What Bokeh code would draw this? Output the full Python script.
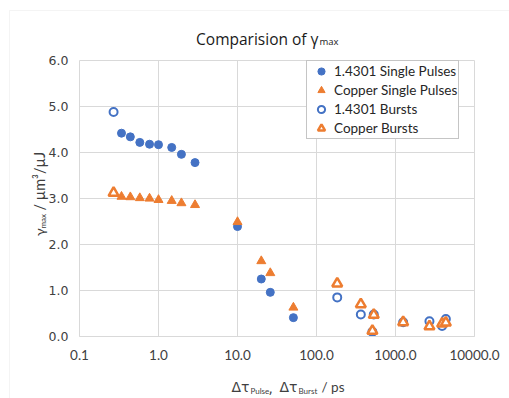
import math
from bokeh.plotting import figure
from bokeh.models import Label, Legend, LegendItem, FixedTicker, CustomJSTickFormatter, BoxAnnotation
from bokeh.embed import file_html
from bokeh.resources import INLINE

# ---- data ----
single_x = [0.34, 0.44, 0.58, 0.77, 1.0, 1.47, 1.95, 2.9, 10, 20, 26, 51]
steel_single_y = [4.42, 4.34, 4.22, 4.18, 4.17, 4.11, 3.96, 3.78, 2.39, 1.25, 0.96, 0.41]
copper_single_y = [3.04, 3.03, 3.01, 3.0, 2.97, 2.95, 2.90, 2.86, 2.49, 1.64, 1.38, 0.63]

burst_x = [0.27, 183, 364, 531, 510, 1250, 2690, 3890, 4340]
steel_burst_y = [4.88, 0.85, 0.48, 0.48, 0.10, 0.31, 0.33, 0.23, 0.38]
copper_burst_y = [3.12, 1.15, 0.70, 0.47, 0.12, 0.31, 0.22, 0.28, 0.30]

x_ticks = [0.1, 1, 10, 100, 1000, 10000]
y_ticks = [0, 1, 2, 3, 4, 5, 6]
legend_labels = ["1.4301 Single Pulses", "Copper Single Pulses", "1.4301 Bursts", "Copper Bursts"]

BLUE = "#4472C4"
ORANGE = "#ED7D31"
GRID = "#d9d9d9"
TXT = "#404040"

# frame covers the whole canvas; plot area 0.1..10000 x 0..6 sits at px 79..474 x 60..336
W, H = 509, 398
L, R, T, B = 79, 474, 60, 336
dec = (R - L) / 5.0
upx = (B - T) / 6.0
x_lo = 10 ** (-1 - L / dec)
x_hi = 10 ** (4 + (W - R) / dec)
y_lo = -(H - B) / upx
y_hi = 6 + T / upx

p = figure(width=W, height=H, x_axis_type="log", x_range=(x_lo, x_hi), y_range=(y_lo, y_hi),
           output_backend="svg", toolbar_location=None,
           min_border_left=0, min_border_right=0, min_border_top=0, min_border_bottom=0)
p.outline_line_color = None
p.background_fill_color = "white"
p.border_fill_color = "white"
p.xgrid.visible = False
p.ygrid.visible = False

# outer chart border (top and left edges visible in the reference)
p.add_layout(BoxAnnotation(left=9, right=W + 20, bottom=-20, top=H - 10,
                           left_units="screen", right_units="screen", bottom_units="screen", top_units="screen",
                           fill_alpha=0, line_color=GRID, line_width=1, level="underlay"))

# grid lines from the tick arrays
p.segment(x0=x_ticks, x1=x_ticks, y0=[min(y_ticks)] * len(x_ticks), y1=[max(y_ticks)] * len(x_ticks),
          line_color=GRID, line_width=1)
p.segment(x0=[min(x_ticks)] * len(y_ticks), x1=[max(x_ticks)] * len(y_ticks), y0=y_ticks, y1=y_ticks,
          line_color=GRID, line_width=1)

xa = p.xaxis[0]
ya = p.yaxis[0]
xa.fixed_location = 0
xa.bounds = (min(x_ticks), max(x_ticks))
ya.fixed_location = min(x_ticks)
ya.bounds = (min(y_ticks), max(y_ticks))
xa.ticker = FixedTicker(ticks=x_ticks, minor_ticks=[])
ya.ticker = FixedTicker(ticks=y_ticks, minor_ticks=[])
xa.formatter = CustomJSTickFormatter(code="return tick.toFixed(1);")
ya.formatter = CustomJSTickFormatter(code="return tick.toFixed(1);")
for ax in (xa, ya):
    ax.major_tick_line_color = None
    ax.minor_tick_line_color = None
    ax.major_tick_in = 0
    ax.major_tick_out = 0
    ax.major_label_text_color = TXT
xa.major_label_text_font = "Lato"
xa.major_label_text_font_size = "13.5px"
ya.major_label_text_font = "DejaVu Sans"
ya.major_label_text_font_size = "12.5px"
xa.axis_line_color = GRID
ya.axis_line_color = None
xa.major_label_standoff = 13
ya.major_label_standoff = 11

r1 = p.scatter(single_x, steel_single_y, marker="circle", size=8, fill_color=BLUE, line_color=BLUE)
r2 = p.scatter(single_x, copper_single_y, marker="triangle", size=9, fill_color=ORANGE, line_color=ORANGE)
r3 = p.scatter(burst_x, steel_burst_y, marker="circle", size=8, fill_color="white", line_color=BLUE, line_width=2)
r4 = p.scatter(burst_x, copper_burst_y, marker="triangle", size=10, fill_color="white", line_color=ORANGE, line_width=2.5)

legend = Legend(items=[LegendItem(label=l, renderers=[r]) for l, r in zip(legend_labels, [r1, r2, r3, r4])],
                location=(306, H - 139), padding=1, spacing=1, margin=0,
                glyph_width=26, glyph_height=18, label_height=18, label_standoff=0,
                label_text_font="Lato", label_text_font_size="13.5px", label_text_color="#262626",
                border_line_color="#8c8c8c", border_line_width=1, background_fill_alpha=1)
p.add_layout(legend, "center")

def lab(text, x, y_top, size, font="Lato", angle=0.0, align="left", color=TXT):
    p.add_layout(Label(x=x, y=H - y_top, x_units="screen", y_units="screen", text=text, angle=angle,
                       text_font=font, text_font_size=size, text_color=color,
                       text_align=align, text_baseline="alphabetic"))

# title: Comparision of gamma_max
lab("Comparision of \u03b3", 318, 38, "15.5px", font="Open Sans", align="right", color="#1a1a1a")
lab("max", 319, 41, "9.5px", font="Open Sans", color="#1a1a1a")

# x-axis label: dtau_Pulse, dtau_Burst / ps
lab("\u0394\u03c4", 249, 386, "14px", font="DejaVu Sans", align="right")
lab("Pulse", 250, 390, "8px")
lab(",", 268, 387, "13.5px", font="DejaVu Sans")
lab("\u0394\u03c4", 297, 386, "14px", font="DejaVu Sans", align="right")
lab("Burst", 298, 390, "8px")
lab("/ ps", 321, 386, "13.5px")

# y-axis label (rotated): gamma_max / um^3/uJ
A = math.pi / 2
p.add_layout(Label(x=39, y=H - 228, x_units="screen", y_units="screen", text="\u03b3", angle=A,
                   text_font="Lato", text_font_size="14px", text_color=TXT,
                   text_align="right", text_baseline="alphabetic"))
p.add_layout(Label(x=42, y=H - 228, x_units="screen", y_units="screen", text="max", angle=A,
                   text_font="Lato", text_font_size="8px", text_color=TXT,
                   text_align="left", text_baseline="alphabetic"))
p.add_layout(Label(x=39, y=H - 210, x_units="screen", y_units="screen", text="/ \u00b5m\u00b3/\u00b5J", angle=A,
                   text_font="Lato", text_font_size="14.5px", text_color=TXT,
                   text_align="left", text_baseline="alphabetic"))

open("out.html", "w").write(file_html(p, INLINE))
